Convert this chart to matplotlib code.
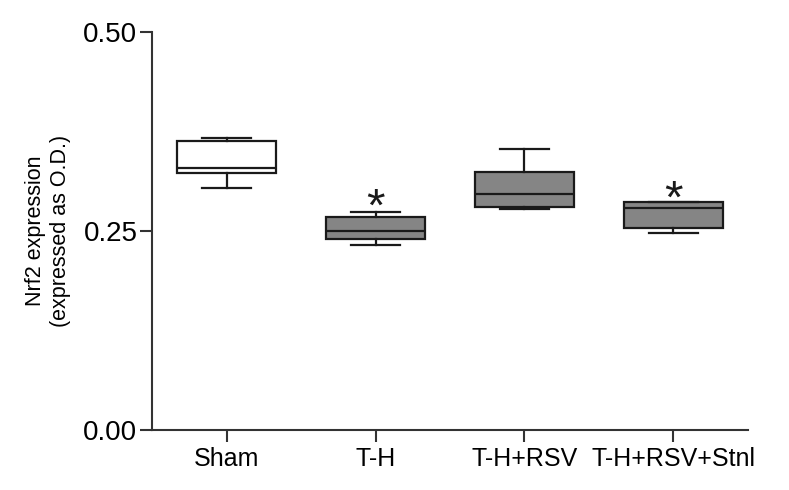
import matplotlib
matplotlib.use("Agg")
import matplotlib.pyplot as plt

# groups and box statistics (O.D. units)
groups = ["Sham", "T-H", "T-H+RSV", "T-H+RSV+Stnl"]
whisker_low = [0.304, 0.232, 0.278, 0.247]
q1 = [0.323, 0.240, 0.280, 0.254]
medians = [0.329, 0.250, 0.296, 0.279]
q3 = [0.363, 0.268, 0.324, 0.286]
whisker_high = [0.367, 0.274, 0.353, 0.287]
fills = ["white", "#858585", "#858585", "#858585"]
# significance marks: (group index, y position)
stars = [(1, 0.278), (3, 0.288)]

plt.rcParams['font.family'] = ['Liberation Sans', 'DejaVu Sans']

fig = plt.figure(figsize=(7.89, 4.90), dpi=100)
ax = fig.add_axes([0.1927, 0.1224, 0.7553, 0.8123])

stats = []
for i in range(len(groups)):
    stats.append({"med": medians[i], "q1": q1[i], "q3": q3[i],
                  "whislo": whisker_low[i], "whishi": whisker_high[i],
                  "fliers": [], "label": groups[i]})

lw = 1.6
bp = ax.bxp(stats, positions=range(len(groups)), widths=0.67,
            capwidths=0.33, patch_artist=True, showfliers=False,
            boxprops=dict(linewidth=lw, edgecolor="#1a1a1a"),
            medianprops=dict(linewidth=lw, color="#1a1a1a"),
            whiskerprops=dict(linewidth=lw, color="#1a1a1a"),
            capprops=dict(linewidth=lw, color="#1a1a1a"))
for patch, c in zip(bp["boxes"], fills):
    patch.set_facecolor(c)

for gi, yv in stars:
    ax.text(gi, yv, "*", ha="center", va="center", fontsize=34, color="#1a1a1a")

ax.set_xlim(-0.5, 3.5)
ax.set_ylim(0, 0.5)
ax.set_yticks([0.0, 0.25, 0.5])
ax.set_yticklabels(["0.00", "0.25", "0.50"])
ax.set_xticks(range(len(groups)))
ax.set_xticklabels(groups)

for s in ["top", "right"]:
    ax.spines[s].set_visible(False)
for s in ["left", "bottom"]:
    ax.spines[s].set_linewidth(1.5)
    ax.spines[s].set_color("#333333")

ax.tick_params(axis="y", length=8.5, width=1.5, color="#333333", labelsize=20, pad=2)
ax.tick_params(axis="x", length=8.5, width=1.5, color="#333333", labelsize=18, pad=4)

ax.set_ylabel("Nrf2 expression\n(expressed as O.D.)", fontsize=15.5, labelpad=9,
              linespacing=1.25)

fig.savefig("out.png", dpi=100)
